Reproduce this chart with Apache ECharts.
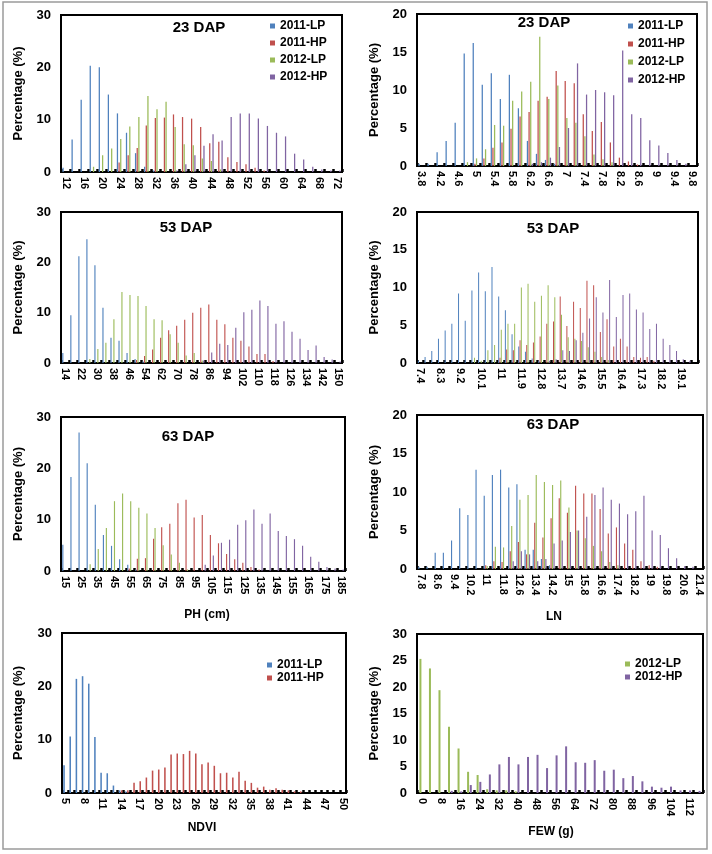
<!DOCTYPE html>
<html>
<head>
<meta charset="utf-8">
<script src="https://cdn.jsdelivr.net/npm/echarts@6.0.0/dist/echarts.min.js"></script>
<style>
  html, body { margin: 0; padding: 0; background: #fff; }
  #chart { width: 712px; height: 854px; }
</style>
</head>
<body>
<div id="chart"></div>
<script>
// --- data (percentage of plants per class) ---

// PH 23 DAP
const phCats23 = ['12','14','16','18','20','22','24','26','28','30','32','34','36','38','40','42','44','46','48','50','52','54','56','58','60','62','64','66','68','70','72'];
const ph23Lp11 = [0.8,6.2,13.8,20.3,20.0,14.8,11.2,7.5,3.6,1.0,0.3,0,0,0,0,0,0,0,0,0,0,0,0,0,0,0,0,0,0,0,0];
const ph23Hp11 = [0,0,0,0,0,0,1.8,3.2,4.6,8.9,10.3,10.4,11.0,10.5,10.2,8.6,5.5,5.8,2.8,1.9,1.5,0.8,0.3,0,0,0,0,0,0,0,0];
const ph23Lp12 = [0,0,0,1.0,3.2,4.5,6.3,8.7,10.5,14.5,12.0,13.4,8.6,5.3,5.1,2.6,2.1,0.5,0,0,0,0,0,0,0,0,0,0,0,0,0];
const ph23Hp12 = [0,0,0,0,0,0,0,0,0,0,0,0,0.3,1.5,3.2,5.0,7.2,6.0,10.5,11.2,11.2,10.2,8.8,7.5,6.8,3.5,2.4,1.0,0.5,0.3,0.3];

// LN 23 DAP
const lnCats23 = ['3.8','4','4.2','4.4','4.6','4.8','5','5.2','5.4','5.6','5.8','6','6.2','6.4','6.6','6.8','7','7.2','7.4','7.6','7.8','8','8.2','8.4','8.6','8.8','9','9.2','9.4','9.6','9.8'];
const ln23Lp11 = [0.3,0.3,1.8,3.3,5.7,14.8,16.2,10.7,12.2,8.8,12.0,7.6,3.3,1.6,0.8,0.3,0,0,0,0,0,0,0,0,0,0,0,0,0,0,0];
const ln23Hp11 = [0,0,0,0,0,0,0.3,1.0,2.4,3.1,4.9,6.5,7.1,8.6,9.1,12.5,11.2,10.9,6.8,4.6,5.8,3.1,1.1,0.6,0.2,0,0,0,0,0,0];
const ln23Lp12 = [0,0,0,0,0,0.5,1.0,2.2,5.4,5.3,8.6,9.8,11.1,17.0,8.8,10.6,6.3,5.7,3.9,1.5,0.9,0.5,0,0,0,0,0,0,0,0,0];
const ln23Hp12 = [0,0,0,0,0,0,0,0,0,0,0,0,0.3,0.5,1.1,2.5,5.0,13.5,9.4,10.0,9.7,9.3,15.2,6.8,6.3,3.4,2.7,1.7,0.8,0.3,0];

// PH 53 DAP
const phCats53 = ['14','18','22','26','30','34','38','42','46','50','54','58','62','66','70','74','78','82','86','90','94','98','102','106','110','114','118','122','126','130','134','138','142','146','150'];
const ph53Lp11 = [2.0,9.5,21.2,24.6,19.4,11.0,5.0,4.4,2.0,0.8,0.3,0,0,0,0,0,0,0,0,0,0,0,0,0,0,0,0,0,0,0,0,0,0,0,0];
const ph53Hp11 = [0,0,0,0,0,0,0,0,0,0.6,1.4,2.7,5.0,6.5,7.4,8.6,10.0,11.0,11.6,8.6,7.7,5.0,4.4,3.3,1.8,1.8,0.4,0,0,0,0,0,0,0,0];
const ph53Lp12 = [0,0,0,0.8,2.8,4.0,8.7,14.1,13.5,13.3,11.3,8.7,8.5,5.7,4.0,1.5,2.0,0.5,0,0,0,0,0,0,0,0,0,0,0,0,0,0,0,0,0];
const ph53Hp12 = [0,0,0,0,0,0,0,0,0,0,0,0,0,0,0,0,0,0.5,2.1,3.8,3.6,7.0,10.1,10.6,12.4,11.3,7.8,8.3,6.2,4.8,2.6,3.5,1.2,0.7,0.3];

// LN 53 DAP
const lnCats53 = ['7.4','7.7','8','8.3','8.6','8.9','9.2','9.5','9.8','10.1','10.4','10.7','11','11.3','11.6','11.9','12.2','12.5','12.8','13.1','13.4','13.7','14','14.3','14.6','14.9','15.2','15.5','15.8','16.1','16.4','16.7','17','17.3','17.6','17.9','18.2','18.5','18.8','19.1','19.4','19.7'];
const ln53Lp11 = [0.3,0.8,1.6,3.2,4.3,5.2,9.2,5.6,9.6,12.0,9.5,12.7,8.8,7.0,3.8,2.2,1.5,0.6,0.3,0,0,0,0,0,0,0,0,0,0,0,0,0,0,0,0,0,0,0,0,0,0,0];
const ln53Hp11 = [0,0,0,0,0,0,0,0,0,0,0,0,0.7,1.8,1.7,3.0,2.4,2.7,3.5,5.2,5.5,8.8,4.9,8.1,7.3,10.9,10.3,4.1,5.8,2.2,3.2,2.2,0.8,0.7,0.8,0.3,0,0,0,0,0,0];
const ln53Lp12 = [0,0,0,0,0,0,0,0,0.7,0.3,1.7,2.4,4.4,5.2,5.2,10.0,10.5,8.1,8.9,10.3,8.7,6.4,3.4,3.2,2.9,2.1,1.5,0.8,0.4,0,0,0,0,0,0,0,0,0,0,0,0,0];
const ln53Hp12 = [0,0,0,0,0,0,0,0,0,0,0,0,0,0,0,0,0,0,0,0.3,0.5,1.7,1.6,3.0,4.0,5.9,8.7,6.7,11.0,6.1,9.0,9.2,7.1,6.7,4.5,5.2,3.2,2.4,1.6,0.5,0.3,0];

// PH 63 DAP
const phCats63 = ['15','20','25','30','35','40','45','50','55','60','65','70','75','80','85','90','95','100','105','110','115','120','125','130','135','140','145','150','155','160','165','170','175','180','185'];
const ph63Lp11 = [5.1,18.3,27.0,21.0,12.9,7.0,4.9,2.3,1.2,0.3,0,0,0,0,0,0,0,0,0,0,0,0,0,0,0,0,0,0,0,0,0,0,0,0,0];
const ph63Hp11 = [0,0,0,0,0,0,0,0,0.5,2.4,2.5,6.3,8.5,9.2,13.2,13.9,10.4,10.9,7.0,5.4,3.3,2.3,1.6,0.8,0.3,0,0,0,0,0,0,0,0,0,0];
const ph63Lp12 = [0,0,0,1.3,4.3,8.4,13.6,15.1,13.6,12.3,11.2,8.4,5.0,3.2,1.6,0.3,0,0,0,0,0,0,0,0,0,0,0,0,0,0,0,0,0,0,0];
const ph63Hp12 = [0,0,0,0,0,0,0,0,0,0,0,0,0,0,0,0,0,1.2,3.0,5.5,6.1,9.0,9.9,12.0,9.2,11.2,7.8,6.8,6.2,4.9,2.8,1.8,0.8,0.5,0.3];

// LN 63 DAP
const lnCats63 = ['7.8','8.2','8.6','9','9.4','9.8','10.2','10.6','11','11.4','11.8','12.2','12.6','13','13.4','13.8','14.2','14.6','15','15.4','15.8','16.2','16.6','17','17.4','17.8','18.2','18.6','19','19.4','19.8','20.2','20.6','21','21.4'];
const ln63Lp11 = [0.3,0.3,2.1,2.1,3.7,7.9,7.0,12.9,9.5,12.2,12.9,10.6,11.0,2.5,2.5,1.3,0.5,0,0,0,0,0,0,0,0,0,0,0,0,0,0,0,0,0,0];
const ln63Hp11 = [0,0,0,0,0,0,0,0,0.5,1.0,0.9,2.3,3.5,1.9,6.0,4.1,6.6,9.2,7.3,10.8,9.8,9.8,7.8,4.6,5.4,3.3,2.5,1.0,0.5,0.3,0,0,0,0,0];
const ln63Lp12 = [0,0,0,0,0,0,0,0,0.4,2.9,2.8,5.6,9.0,9.6,12.2,11.3,10.9,11.5,8.0,5.0,4.0,3.0,2.3,0.9,0.5,0,0,0,0,0,0,0,0,0,0];
const ln63Hp12 = [0,0,0,0,0,0,0,0,0,0,0,1.0,2.3,1.9,1.0,1.3,3.3,3.7,4.8,5.0,6.8,9.6,10.6,9.0,8.5,7.1,7.5,9.5,5.0,4.4,2.7,1.4,0.4,0.3,0];

// NDVI
const ndviCats = ['5','6','7','8','9','10','11','12','13','14','15','16','17','18','19','20','21','22','23','24','25','26','27','28','29','30','31','32','33','34','35','36','37','38','39','40','41','42','43','44','45','46','47','48','49','50'];
const ndviLp11 = [5.2,10.6,21.4,21.9,20.5,10.5,3.8,3.7,1.4,0.5,0.3,0,0,0,0,0,0,0,0,0,0,0,0,0,0,0,0,0,0,0,0,0,0,0,0,0,0,0,0,0,0,0,0,0,0,0];
const ndviHp11 = [0,0,0,0,0,0,0,0,0,0.5,0.5,1.9,2.2,2.9,4.2,4.4,4.8,7.2,7.4,7.3,7.9,7.4,5.4,5.7,5.1,3.7,3.8,2.9,4.0,2.3,1.9,1.0,1.2,0.6,0.9,0.6,0.5,0.3,0.3,0,0,0,0,0,0,0];

// FEW (g)
const fewCats = ['0','4','8','12','16','20','24','28','32','36','40','44','48','52','56','60','64','68','72','76','80','84','88','92','96','100','104','108','112','116'];
const fewLp12 = [25.3,23.5,19.4,12.5,8.4,4.0,3.4,0.7,0.5,0.5,0.3,0,0,0,0,0,0,0,0,0,0,0,0,0,0,0,0,0,0,0];
const fewHp12 = [0,0,0,0.4,0.3,1.5,2.1,3.5,5.4,6.8,5.4,6.8,7.2,4.7,7.1,8.8,5.8,5.7,6.2,4.2,4.4,2.8,3.2,2.2,1.2,1.0,1.2,0.5,0.5,0.4];

// --- look ---
const FONT = '"Liberation Sans", Arial, sans-serif';
const COLORS = { '2011-LP': '#4F81BD', '2011-HP': '#C0504D', '2012-LP': '#9BBB59', '2012-HP': '#8064A2' };

// grid = [left, top, width, height]; legend = [left, top, itemGap]
const panels = [
  { cats: phCats23, series: { '2011-LP': ph23Lp11, '2011-HP': ph23Hp11, '2012-LP': ph23Lp12, '2012-HP': ph23Hp12 },
    grid: [61, 15, 281, 157], yMax: 30, yStep: 10, every: 1, bar: ['14%', '30%'],
    title: ['23 DAP', 199, 28], legend: [270, 20, 5], yNameX: 18 },
  { cats: lnCats23, series: { '2011-LP': ln23Lp11, '2011-HP': ln23Hp11, '2012-LP': ln23Lp12, '2012-HP': ln23Hp12 },
    grid: [417, 14, 280, 152], yMax: 20, yStep: 5, every: 1, bar: ['14%', '30%'],
    title: ['23 DAP', 544, 23], legend: [628, 20, 6], yNameX: 374 },
  { cats: phCats53, series: { '2011-LP': ph53Lp11, '2011-HP': ph53Hp11, '2012-LP': ph53Lp12, '2012-HP': ph53Hp12 },
    grid: [61, 212, 281, 151], yMax: 30, yStep: 10, every: 1, bar: ['14%', '30%'],
    title: ['53 DAP', 186, 228], yNameX: 18 },
  { cats: lnCats53, series: { '2011-LP': ln53Lp11, '2011-HP': ln53Hp11, '2012-LP': ln53Lp12, '2012-HP': ln53Hp12 },
    grid: [417, 212, 281, 151], yMax: 20, yStep: 5, every: 2, bar: ['14%', '30%'],
    title: ['53 DAP', 553, 229], yNameX: 374 },
  { cats: phCats63, series: { '2011-LP': ph63Lp11, '2011-HP': ph63Hp11, '2012-LP': ph63Lp12, '2012-HP': ph63Hp12 },
    grid: [61, 417, 284, 154], yMax: 30, yStep: 10, every: 1, bar: ['14%', '30%'],
    title: ['63 DAP', 188, 437], yNameX: 18, xName: ['PH (cm)', 207, 615] },
  { cats: lnCats63, series: { '2011-LP': ln63Lp11, '2011-HP': ln63Hp11, '2012-LP': ln63Lp12, '2012-HP': ln63Hp12 },
    grid: [417, 415, 286, 154], yMax: 20, yStep: 5, every: 1, bar: ['14%', '30%'],
    title: ['63 DAP', 553, 425], yNameX: 374, xName: ['LN', 554, 617] },
  { cats: ndviCats, series: { '2011-LP': ndviLp11, '2011-HP': ndviHp11 },
    grid: [62, 633, 284, 160], yMax: 30, yStep: 10, every: 2, bar: ['25%', '35%'],
    legend: [267, 659, 1], yNameX: 18, xName: ['NDVI', 202, 828] },
  { cats: fewCats, series: { '2012-LP': fewLp12, '2012-HP': fewHp12 },
    grid: [417, 634, 286, 159], yMax: 30, yStep: 5, every: 1, bar: ['21%', '35%'],
    legend: [625, 658, 1], yNameX: 374, xName: ['FEW (g)', 551, 832] }
];

function label(text, x, y, size, rotate) {
  return {
    type: 'text', x: x, y: y, rotation: rotate ? Math.PI / 2 : 0, silent: true,
    style: {
      text: text, fill: '#000', font: 'bold ' + size + 'px ' + FONT,
      textAlign: 'center', textVerticalAlign: 'middle', align: 'center', verticalAlign: 'middle'
    }
  };
}

const option = {
  animation: false,
  backgroundColor: '#fff',
  textStyle: { fontFamily: FONT },
  grid: [], xAxis: [], yAxis: [], series: [], legend: [],
  graphic: [{
    type: 'rect', silent: true,
    shape: { x: 3, y: 2, width: 704, height: 847 },
    style: { fill: 'none', stroke: '#9a9a9a', lineWidth: 1.5 }
  }]
};

panels.forEach((p, i) => {
  const [left, top, width, height] = p.grid;
  option.grid.push({ left, top, width, height, show: true, borderColor: '#000', borderWidth: 2 });
  option.xAxis.push({
    type: 'category', gridIndex: i, data: p.cats, boundaryGap: true,
    axisLine: { lineStyle: { color: '#000', width: 2 } },
    axisTick: { show: true, inside: true, length: 3, interval: 0, lineStyle: { color: '#000', width: 2.5 } },
    axisLabel: { interval: p.every, rotate: -90, margin: 5, color: '#000', fontSize: 11, fontWeight: 'bold' },
    splitLine: { show: false }
  });
  option.yAxis.push({
    type: 'value', gridIndex: i, min: 0, max: p.yMax, interval: p.yStep,
    axisLine: { show: true, lineStyle: { color: '#000', width: 2 } },
    axisTick: { show: false },
    axisLabel: { margin: 10, color: '#000', fontSize: 13, fontWeight: 'bold' },
    splitLine: { show: false }
  });
  Object.keys(p.series).forEach(name => {
    option.series.push({
      type: 'bar', name: name, xAxisIndex: i, yAxisIndex: i, data: p.series[name],
      barWidth: p.bar[0], barGap: p.bar[1], silent: true,
      itemStyle: { color: COLORS[name] }
    });
  });
  if (p.legend) {
    option.legend.push({
      data: Object.keys(p.series), orient: 'vertical', left: p.legend[0], top: p.legend[1],
      itemGap: p.legend[2], padding: 0, icon: 'rect', itemWidth: 5, itemHeight: 5,
      selectedMode: false,
      textStyle: { color: '#000', fontSize: 12, fontWeight: 'bold', lineHeight: 12 }
    });
  }
  if (p.title) option.graphic.push(label(p.title[0], p.title[1], p.title[2], 15));
  if (p.xName) option.graphic.push(label(p.xName[0], p.xName[1], p.xName[2], 12));
  option.graphic.push(label('Percentage (%)', p.yNameX, top + height / 2, 13, true));
});

const chart = echarts.init(document.getElementById('chart'), null, { renderer: 'canvas' });
chart.setOption(option);
</script>
</body>
</html>
